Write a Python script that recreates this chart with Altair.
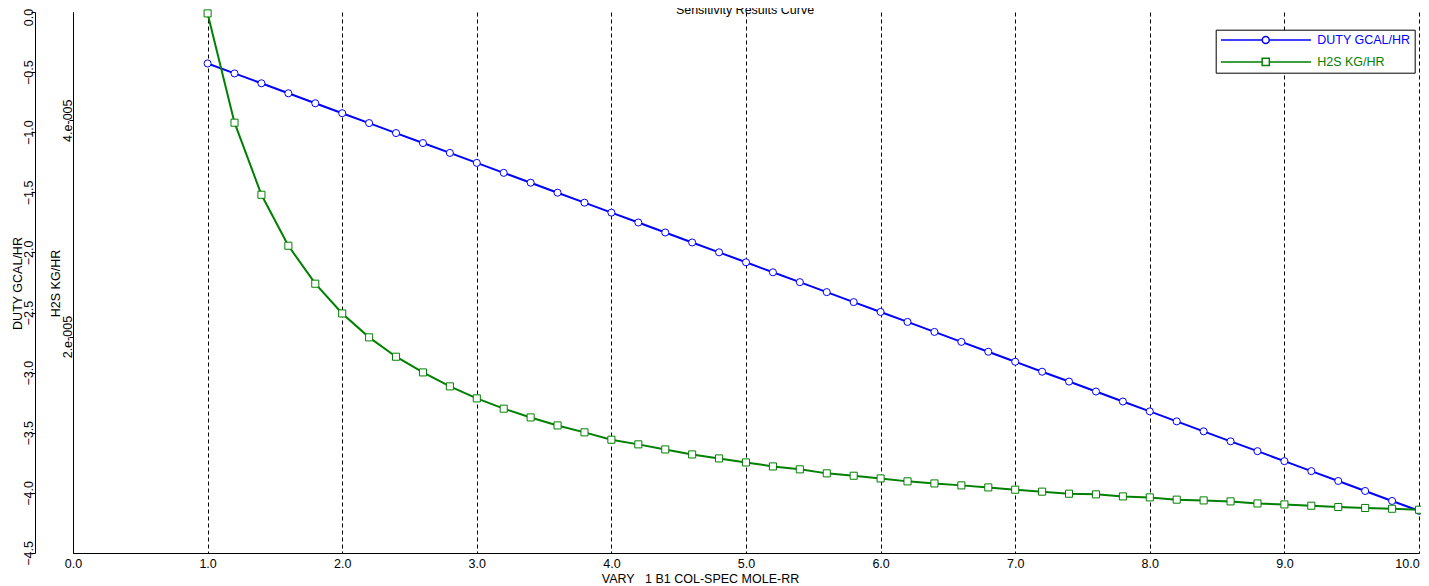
import altair as alt
import pandas as pd

# ---- data ----
x_vals = [1.0, 1.2, 1.4, 1.6, 1.8, 2.0, 2.2, 2.4, 2.6, 2.8, 3.0, 3.2, 3.4, 3.6, 3.8,
          4.0, 4.2, 4.4, 4.6, 4.8, 5.0, 5.2, 5.4, 5.6, 5.8, 6.0, 6.2, 6.4, 6.6, 6.8,
          7.0, 7.2, 7.4, 7.6, 7.8, 8.0, 8.2, 8.4, 8.6, 8.8, 9.0, 9.2, 9.4, 9.6, 9.8, 10.0]

duty = [-0.428, -0.511, -0.593, -0.676, -0.759, -0.842, -0.924, -1.007, -1.090, -1.172,
        -1.255, -1.338, -1.420, -1.503, -1.586, -1.669, -1.751, -1.834, -1.917, -1.999,
        -2.082, -2.165, -2.247, -2.330, -2.413, -2.495, -2.578, -2.661, -2.744, -2.826,
        -2.909, -2.992, -3.074, -3.157, -3.240, -3.322, -3.405, -3.488, -3.571, -3.653,
        -3.736, -3.819, -3.901, -3.984, -4.067, -4.149]

h2s = [4.987e-5, 3.977e-5, 3.311e-5, 2.840e-5, 2.489e-5, 2.214e-5, 1.993e-5, 1.814e-5,
       1.669e-5, 1.540e-5, 1.429e-5, 1.334e-5, 1.253e-5, 1.179e-5, 1.115e-5, 1.047e-5,
       1.004e-5, 9.57e-6, 9.11e-6, 8.74e-6, 8.37e-6, 8.00e-6, 7.73e-6, 7.36e-6,
       7.14e-6, 6.89e-6, 6.62e-6, 6.43e-6, 6.25e-6, 6.06e-6, 5.85e-6, 5.67e-6,
       5.48e-6, 5.42e-6, 5.23e-6, 5.14e-6, 4.93e-6, 4.86e-6, 4.77e-6, 4.58e-6,
       4.49e-6, 4.37e-6, 4.25e-6, 4.16e-6, 4.09e-6, 4.00e-6]

series_names = ["DUTY GCAL/HR", "H2S KG/HR"]
series_colors = ["#0000ff", "#008000"]

x_ticks = [0.0, 1.0, 2.0, 3.0, 4.0, 5.0, 6.0, 7.0, 8.0, 9.0, 10.0]
duty_ticks = [0.0, -0.5, -1.0, -1.5, -2.0, -2.5, -3.0, -3.5, -4.0, -4.5]
h2s_ticks = [2e-5, 4e-5]

title_text = "Sensitivity Results Curve"
x_title = "VARY\u00a0\u00a0\u00a01 B1 COL-SPEC MOLE-RR"

FONT = "Liberation Sans"
FS = 12.5

duty_df = pd.DataFrame({"x": x_vals, "y": duty, "series": series_names[0]})
h2s_df = pd.DataFrame({"x": x_vals, "y": h2s, "series": series_names[1]})
title_df = pd.DataFrame({"t": [title_text]})

x_enc = alt.X(
    "x:Q",
    scale=alt.Scale(domain=[0, 10], nice=False, zero=False),
    axis=alt.Axis(
        values=x_ticks, format=".1f", ticks=False, labelPadding=4,
        labelFlush=False, labelOverlap=False,
        labelOffset=alt.ExprRef("datum.value === 10 ? -12 : 0"),
        grid=True, gridDash=[4, 3], gridColor="black", gridOpacity=1, gridWidth=1,
        domainColor="black", domainWidth=1,
        labelColor="black", labelFont=FONT, labelFontSize=FS,
        title=x_title, titleFont=FONT, titleFontSize=FS, titleFontWeight="normal",
        titleColor="black", titleX=627, titleY=25, titleAlign="center",
        titleBaseline="middle",
    ),
)

duty_axis = alt.Axis(
    orient="left", offset=38, values=duty_ticks, format=".1f",
    labelAngle=-90, labelAlign="center", labelBaseline="alphabetic",
    labelPadding=-1.5, labelOverlap=False, labelFlush=False,
    labelOffset=alt.ExprRef("datum.value === 0 ? 5 : 0"),
    tickSize=4, tickColor="black", domainColor="black", grid=False,
    labelColor="black", labelFont=FONT, labelFontSize=FS,
    title="DUTY GCAL/HR", titleFont=FONT, titleFontSize=FS,
    titleFontWeight="normal", titleColor="black",
    titleAngle=-90, titleAlign="center", titleBaseline="alphabetic",
    titleX=-14, titleY=271,
)

h2s_axis = alt.Axis(
    orient="left", offset=0, values=h2s_ticks,
    labelExpr="round(datum.value*1e5) + '.e-005'",
    labelAngle=-90, labelAlign="center", labelBaseline="alphabetic",
    labelPadding=-2.7, labelOverlap=False, labelFlush=False,
    tickSize=4, tickColor="black", domainColor="black", grid=False,
    labelColor="black", labelFont=FONT, labelFontSize=FS,
    title="H2S KG/HR", titleFont=FONT, titleFontSize=FS,
    titleFontWeight="normal", titleColor="black",
    titleAngle=-90, titleAlign="center", titleBaseline="alphabetic",
    titleX=-14, titleY=271,
)

circle_sym = "M-1,0L7.26,0M8.66,0L17,0M7.26,0A0.7,0.7,0,1,1,8.66,0A0.7,0.7,0,1,1,7.26,0Z"
square_sym = "M-1,0L7.24,0M8.68,0L17,0M7.24,-0.72L8.68,-0.72L8.68,0.72L7.24,0.72Z"

legend = alt.Legend(
    orient="none", legendX=1142.7, legendY=17.7, title=None,
    strokeColor="black", fillColor="white", padding=4, cornerRadius=0,
    symbolSize=100,
    symbolType=alt.ExprRef(
        f"datum.label == '{series_names[0]}' ? '{circle_sym}' : '{square_sym}'"),
    symbolStrokeWidth=1.5, labelOffset=85,
    labelFont=FONT, labelFontSize=FS,
    labelColor=alt.ExprRef(
        f"datum.label == '{series_names[0]}' ? '{series_colors[0]}' : '{series_colors[1]}'"),
    rowPadding=8, labelLimit=0,
)

color_scale = alt.Scale(domain=series_names, range=series_colors)

duty_y = alt.Y("y:Q", scale=alt.Scale(domain=[-4.5, 0], nice=False, zero=False), axis=duty_axis)
h2s_y = alt.Y("y:Q", scale=alt.Scale(domain=[0, 5e-5], nice=False, zero=False), axis=h2s_axis)

duty_line = alt.Chart(duty_df).mark_line(strokeWidth=2, color=series_colors[0]).encode(x=x_enc, y=duty_y)
duty_pts = alt.Chart(duty_df).mark_point(
    shape="circle", filled=False, fill="white", fillOpacity=1, opacity=1, size=50, strokeWidth=1
).encode(x=x_enc, y=duty_y, color=alt.Color("series:N", scale=color_scale, legend=legend))

h2s_line = alt.Chart(h2s_df).mark_line(strokeWidth=2, color=series_colors[1]).encode(x=x_enc, y=h2s_y)
h2s_pts = alt.Chart(h2s_df).mark_point(
    shape="square", filled=False, fill="white", fillOpacity=1, opacity=1, size=50, strokeWidth=1
).encode(x=x_enc, y=h2s_y, color=alt.Color("series:N", scale=color_scale, legend=legend))

# chart title (top edge, partly cut off as in the reference)
title_mark = alt.Chart(title_df).mark_text(
    font=FONT, fontSize=FS, color="black", align="center", baseline="alphabetic"
).encode(text="t:N", x=alt.value(672), y=alt.value(2))

chart = alt.layer(
    alt.layer(duty_line, duty_pts),
    alt.layer(h2s_line, h2s_pts),
    title_mark,
).resolve_scale(y="independent").properties(
    width=1346, height=541,
    padding={"left": 65, "top": 4, "right": 2, "bottom": 34},
    autosize=alt.AutoSizeParams(type="none"),
    background="white",
).configure_view(stroke=None)

chart.save("out.html", embed_options={"renderer": "svg", "actions": False})
